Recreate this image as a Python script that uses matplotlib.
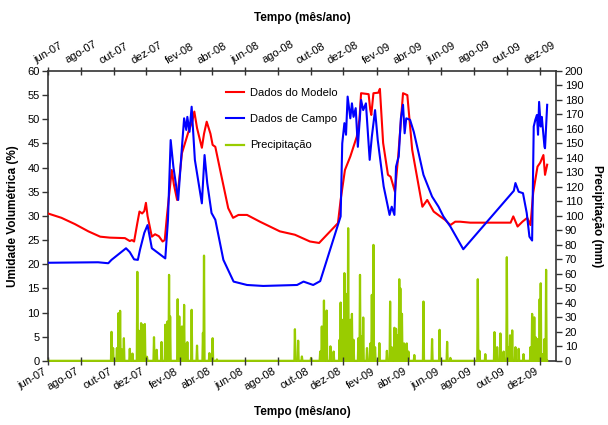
"""Umidade volumétrica (modelo x campo) e precipitação, jun-07 a dez-09.

Writes out.png.
"""
import matplotlib

matplotlib.use("Agg")
import matplotlib.dates as mdates  # noqa: E402
import matplotlib.pyplot as plt  # noqa: E402
import numpy as np  # noqa: E402
import pandas as pd  # noqa: E402
from matplotlib.ticker import FuncFormatter, MultipleLocator  # noqa: E402

plt.rcParams["font.family"] = ["Liberation Sans", "DejaVu Sans"]

DAY0 = pd.Timestamp("2007-06-01")          # days below are counted from here
XMAX = pd.Timestamp("2010-01-01")
MESES = ["jan", "fev", "mar", "abr", "mai", "jun", "jul", "ago", "set", "out", "nov", "dez"]

# --- Dados do Modelo (%) ---
model_day = [0, 25, 50, 75, 97, 115, 143, 152, 156, 160, 166, 170, 175, 179, 182, 185, 193,
             199, 206, 213, 217, 221, 230, 234, 240, 249, 261, 268, 272, 277, 286, 290, 295,
             302, 306, 311, 320, 335, 344, 354, 370, 394, 431, 459, 487, 504, 539, 544, 552,
             562, 574, 579, 582, 596, 599, 601, 605, 614, 617, 623, 632, 637, 645, 651, 660,
             668, 677, 686, 696, 705, 717, 729, 738, 748, 757, 766, 785, 860, 865, 873, 882,
             891, 897, 902, 910, 915, 921, 924, 928]
model_val = [30.5, 29.6, 28.3, 26.8, 25.7, 25.5, 25.4, 24.8, 25.0, 24.7, 28.5, 30.9, 30.5, 31.0,
             32.7, 30.0, 25.7, 26.2, 25.8, 24.7, 25.0, 29.9, 39.5, 36.5, 33.3, 43.0, 47.4, 49.5,
             51.6, 48.2, 44.1, 47.0, 49.5, 47.0, 44.7, 44.3, 39.5, 31.6, 29.6, 30.2, 30.2, 28.8,
             26.8, 26.1, 24.7, 24.4, 28.5, 33.3, 39.5, 42.3, 46.4, 50.0, 55.4, 55.2, 52.0, 50.9,
             55.4, 55.5, 56.3, 45.1, 38.5, 38.1, 35.0, 42.3, 55.4, 55.0, 43.7, 38.1, 31.9, 33.3,
             30.9, 29.9, 29.2, 28.1, 28.8, 28.8, 28.6, 28.6, 29.9, 27.8, 28.8, 29.6, 28.1, 34.8,
             40.2, 41.0, 42.6, 38.5, 40.6]

# --- Dados de Campo (%) ---
field_day = [0, 93, 112, 118, 145, 152, 160, 167, 171, 179, 185, 193, 205, 218, 223, 228, 233,
             242, 249, 253, 257, 259, 263, 267, 273, 286, 291, 296, 304, 311, 326, 345, 370,
             400, 463, 475, 493, 506, 540, 544, 547, 551, 554, 557, 562, 565, 568, 572, 576,
             582, 586, 591, 598, 602, 608, 613, 624, 635, 639, 644, 647, 652, 656, 660, 663,
             666, 673, 680, 689, 698, 714, 726, 735, 748, 772, 866, 869, 875, 883, 890, 895,
             900, 903, 906, 909, 911, 913, 916, 918, 923, 924, 928]
field_val = [20.3, 20.4, 20.2, 20.9, 23.3, 22.5, 21.0, 20.9, 23.0, 26.5, 28.1, 23.3, 22.3, 21.2,
             29.2, 45.7, 40.2, 33.3, 44.3, 50.2, 47.8, 50.5, 47.4, 52.6, 41.6, 32.6, 42.6, 36.8,
             30.6, 29.2, 20.9, 16.4, 15.7, 15.5, 15.7, 16.4, 15.7, 16.5, 28.5, 29.9, 45.0, 49.2,
             46.8, 54.7, 50.2, 53.3, 50.5, 52.3, 44.3, 54.0, 51.9, 53.3, 41.6, 46.4, 51.9, 45.7,
             36.1, 30.2, 31.9, 30.2, 40.2, 42.3, 50.2, 53.0, 47.1, 50.2, 49.9, 47.4, 43.0, 38.5,
             34.0, 31.9, 29.9, 27.8, 23.1, 35.2, 36.8, 35.0, 34.7, 30.6, 25.7, 24.9, 48.5, 49.9,
             50.9, 46.8, 53.6, 48.5, 50.5, 44.3, 44.0, 53.0]

# --- Precipitação (mm), only the rainy days; every other day is 0 ---
LAST_DAY = 928
rain_day = [118, 121, 128, 131, 134, 137, 141, 152, 157, 166, 169, 173, 176, 180, 184, 197,
            202, 211, 218, 222, 225, 227, 241, 244, 249, 253, 256, 259, 267, 277, 288, 290,
            300, 306, 314, 459, 465, 472, 489, 506, 509, 513, 518, 525, 531, 542, 544, 548,
            551, 554, 558, 562, 565, 568, 577, 580, 583, 586, 593, 599, 602, 605, 608, 616,
            630, 636, 639, 644, 647, 650, 653, 655, 658, 662, 667, 670, 681, 698, 714, 728,
            742, 748, 799, 802, 813, 830, 835, 841, 847, 853, 856, 859, 863, 869, 875, 884,
            897, 900, 904, 907, 910, 914, 916, 920, 923, 926]
rain_mm = [20.0, 8.8, 8.8, 32.9, 34.5, 8.0, 15.6, 8.3, 5.0, 61.4, 20.7, 26.0, 24.9, 25.4, 2.8,
           16.3, 7.6, 13.0, 24.9, 27.1, 59.3, 30.6, 42.5, 30.6, 23.7, 38.6, 11.7, 12.9, 35.2,
           10.5, 19.3, 72.6, 5.3, 15.6, 1.0, 21.8, 13.9, 3.0, 2.0, 6.4, 23.7, 41.6, 34.7, 10.0,
           6.4, 14.5, 40.2, 28.3, 60.5, 46.2, 91.5, 28.3, 32.4, 14.5, 15.6, 59.3, 16.9, 29.9,
           8.8, 11.9, 45.5, 80.0, 9.4, 12.2, 6.9, 40.9, 9.4, 22.8, 22.1, 17.6, 56.3, 50.0, 32.4,
           12.0, 12.0, 6.4, 4.0, 40.9, 15.0, 21.4, 13.1, 2.0, 56.3, 6.9, 4.6, 19.8, 9.4, 18.9,
           6.4, 71.5, 9.4, 17.6, 21.0, 9.4, 8.3, 4.6, 9.4, 32.4, 30.0, 16.1, 15.0, 42.5, 53.5,
           4.6, 15.0, 62.8]

SPINE = "#333333"


def to_dates(days):
    return DAY0 + pd.to_timedelta(np.asarray(days), unit="D")


def mes_ano(x, pos):
    d = mdates.num2date(x)
    return f"{MESES[d.month - 1]}-{d:%y}"


def main():
    rain = np.zeros(LAST_DAY + 1)
    rain[rain_day] = rain_mm
    rain_dates = to_dates(np.arange(LAST_DAY + 1))

    fig = plt.figure(figsize=(6.08, 4.25), dpi=100)
    ax = fig.add_axes([0.079, 0.151, 0.836, 0.682])
    ax2 = ax.twinx()
    ax.set_zorder(ax2.get_zorder() + 1)
    ax.patch.set_visible(False)

    # rain sits on the bottom spine, as in the original
    l_rain, = ax2.plot(rain_dates, rain, color="#99CC00", lw=1.6, label="Precipitação",
                       zorder=3, clip_on=False)
    l_mod, = ax.plot(to_dates(model_day), model_val, color="#FF0000", lw=1.5,
                     label="Dados do Modelo")
    l_cam, = ax.plot(to_dates(field_day), field_val, color="#0000FF", lw=1.5,
                     label="Dados de Campo")

    ax.set_xlim(DAY0, XMAX)
    ax.set_ylim(0, 60)
    ax.yaxis.set_major_locator(MultipleLocator(5))
    ax2.set_ylim(0, 200)
    ax2.yaxis.set_major_locator(MultipleLocator(10))

    ticks = pd.date_range("2007-06-01", "2009-12-01", freq="2MS")
    ax.set_xticks(ticks)
    ax.xaxis.set_major_formatter(FuncFormatter(mes_ano))
    plt.setp(ax.get_xticklabels(), rotation=30, ha="right", rotation_mode="default")

    top = ax.secondary_xaxis("top")
    top.set_xticks(ticks)
    top.xaxis.set_major_formatter(FuncFormatter(mes_ano))
    plt.setp(top.get_xticklabels(), rotation=30, ha="center")
    top.tick_params(axis="x", direction="inout", length=6, width=1, labelsize=8, pad=1,
                    color=SPINE)
    top.set_xlabel("Tempo (mês/ano)", fontsize=8.5, fontweight="bold", labelpad=13)

    ax.tick_params(axis="x", direction="inout", length=6, width=1, labelsize=8, pad=1,
                   color=SPINE)
    ax.tick_params(axis="y", direction="out", length=4, width=1, labelsize=8, pad=2,
                   color=SPINE)
    ax2.tick_params(axis="y", direction="out", length=4, width=1, labelsize=8, pad=2,
                    color=SPINE)
    ax.set_xlabel("Tempo (mês/ano)", fontsize=8.5, fontweight="bold", labelpad=10)
    ax.set_ylabel("Umidade Volumétrica (%)", fontsize=8.5, fontweight="bold", labelpad=6)
    ax2.set_ylabel("Precipitação (mm)", fontsize=8.5, fontweight="bold", rotation=270,
                   labelpad=14)

    # frame drawn by ax2 (below the rain line); ax's own spines hidden
    for sp in ax.spines.values():
        sp.set_visible(False)
    for sp in ax2.spines.values():
        sp.set_color(SPINE)
        sp.set_linewidth(1.2)
    top.spines["top"].set_visible(False)

    ax.legend(handles=[l_mod, l_cam, l_rain], loc="upper left", bbox_to_anchor=(0.33, 0.975),
              frameon=False, fontsize=8, labelspacing=1.45, handlelength=1.6,
              handletextpad=0.6)

    fig.savefig("out.png", dpi=100)


if __name__ == "__main__":
    main()
